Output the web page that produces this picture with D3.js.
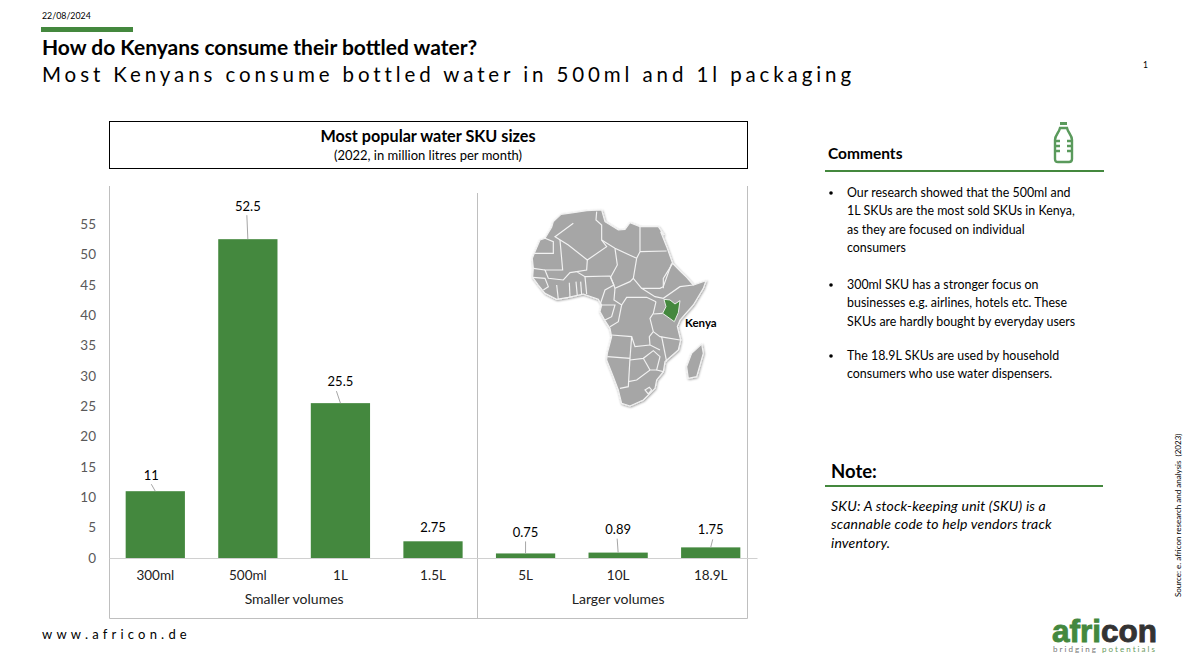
<!DOCTYPE html>
<html>
<head>
<meta charset="utf-8">
<script src="https://cdn.jsdelivr.net/npm/d3@7"></script>
<style>
  body { margin: 0; background: #fff; }
  text { font-family: Lato, "Open Sans", sans-serif; }
</style>
</head>
<body>
<div id="chart"></div>
<script>
// Chart data //
var categories = ["300ml", "500ml", "1L", "1.5L", "5L", "10L", "18.9L"];
var values = [11, 52.5, 25.5, 2.75, 0.75, 0.89, 1.75];
var valueLabels = ["11", "52.5", "25.5", "2.75", "0.75", "0.89", "1.75"];
var yTicks = [0, 5, 10, 15, 20, 25, 30, 35, 40, 45, 50, 55];
var groupNames = ["Smaller volumes", "Larger volumes"];

var comments = [
  ["Our research showed that the 500ml and", "1L SKUs are the most sold SKUs in Kenya,", "as they are focused on individual", "consumers"],
  ["300ml SKU has a stronger focus on", "businesses e.g. airlines, hotels etc. These", "SKUs are hardly bought by everyday users"],
  ["The 18.9L SKUs are used by household", "consumers who use water dispensers."]
];
var noteLines = ["SKU: A stock-keeping unit (SKU) is a", "scannable code to help vendors track", "inventory."];

// where the data labels sit above their bars, and the leader lines (px, from bar top)
var labelLift = [16, 33, 22, 14, 21, 24, 18];
var leaderDx = [-4, -1, -4, 0, 0, -1, 2];
var leaderTop = [7, 24, 12, 0, 12, 14, 8];

var green = "#44883e";

var svgWidth = 1188;
var svgHeight = 669;

var svg = d3.select("#chart")
  .append("svg")
  .attr("width", svgWidth)
  .attr("height", svgHeight)
  .style("display", "block");

var defs = svg.append("defs");
var shadow = defs.append("filter").attr("id", "mapShadow")
  .attr("x", "-10%").attr("y", "-10%").attr("width", "125%").attr("height", "125%");
shadow.append("feDropShadow")
  .attr("dx", 2).attr("dy", 3).attr("stdDeviation", 2.5)
  .attr("flood-color", "#000").attr("flood-opacity", 0.4);

// Page header //
function addText(x, y, str, size, opts) {
  opts = opts || {};
  return svg.append("text")
    .attr("x", x)
    .attr("y", y)
    .attr("font-size", size)
    .attr("fill", opts.fill || "#000")
    .attr("font-weight", opts.weight || 400)
    .attr("font-style", opts.style || "normal")
    .attr("text-anchor", opts.anchor || "start")
    .attr("letter-spacing", opts.spacing || 0)
    .text(str);
}

addText(42, 19, "22/08/2024", 8.8);
svg.append("rect").attr("x", 41).attr("y", 27).attr("width", 92).attr("height", 5).attr("fill", green);
addText(42, 55, "How do Kenyans consume their bottled water?", 21, { weight: 700 });
addText(42, 82, "Most Kenyans consume bottled water in 500ml and 1l packaging", 20.5, { spacing: 3.9 });
addText(1143, 68, "1", 8.5);

// Chart title box //
svg.append("rect")
  .attr("x", 109.5).attr("y", 121.5).attr("width", 638).attr("height", 47)
  .attr("fill", "none").attr("stroke", "#000");
addText(428, 142, "Most popular water SKU sizes", 16.2, { weight: 700, anchor: "middle" });
addText(428, 160, "(2022, in million litres per month)", 13, { anchor: "middle" });

// Scales //
var x = d3.scaleBand()
  .domain(categories)
  .range([109, 757])
  .paddingInner(0.36)
  .paddingOuter(0.18);

var y = d3.scaleLinear()
  .domain([0, 55])
  .range([558, 224]);

// Frame around the plot //
var frame = svg.append("g").attr("stroke", "#bfbfbf").attr("fill", "none");
frame.append("path").attr("d", "M109.5,186V618.5H747.5V186");
frame.append("line").attr("x1", 477.5).attr("x2", 477.5).attr("y1", 193).attr("y2", 618);

// Bars //
svg.selectAll(".bar")
  .data(categories)
  .enter()
  .append("rect")
  .attr("class", "bar")
  .attr("x", d => x(d))
  .attr("y", (d, i) => y(values[i]))
  .attr("width", x.bandwidth())
  .attr("height", (d, i) => y(0) - y(values[i]))
  .attr("fill", green);

// Axes //
var leftAxis = d3.axisLeft(y).tickValues(yTicks).tickSize(0).tickPadding(0);
var gLeft = svg.append("g")
  .attr("transform", "translate(96, 0)")
  .call(leftAxis);
gLeft.select(".domain").remove();
gLeft.selectAll("text")
  .attr("font-size", 13.5)
  .attr("font-family", "Lato")
  .attr("fill", "#595959");

var bottomAxis = d3.axisBottom(x).tickSize(0).tickPadding(12);
var gBottom = svg.append("g")
  .attr("transform", `translate(0, ${y(0)})`)
  .call(bottomAxis);
gBottom.select(".domain").attr("stroke", "#d0d0d0");
gBottom.selectAll("text")
  .attr("font-size", 13.5)
  .attr("font-family", "Lato")
  .attr("fill", "#222");

// Group labels //
var groupCentres = [
  (x(categories[0]) + x(categories[3]) + x.bandwidth()) / 2,
  (x(categories[4]) + x(categories[6]) + x.bandwidth()) / 2
];
groupNames.forEach(function(name, i) {
  addText(groupCentres[i], 604, name, 14, { anchor: "middle", fill: "#222" });
});

// Data labels and leader lines //
svg.selectAll(".leader")
  .data(categories)
  .enter()
  .filter((d, i) => leaderTop[i] > 0)
  .append("line")
  .attr("class", "leader")
  .attr("x1", d => x(d) + x.bandwidth() / 2 + leaderDx[categories.indexOf(d)])
  .attr("y1", d => y(values[categories.indexOf(d)]) - leaderTop[categories.indexOf(d)])
  .attr("x2", d => x(d) + x.bandwidth() / 2)
  .attr("y2", d => y(values[categories.indexOf(d)]))
  .attr("stroke", "#a6a6a6");

svg.selectAll(".valueLabel")
  .data(categories)
  .enter()
  .append("text")
  .attr("class", "valueLabel")
  .attr("x", d => x(d) + x.bandwidth() / 2 + (d == "300ml" ? -4 : 0))
  .attr("y", (d, i) => y(values[i]) - labelLift[i] + 5)
  .attr("text-anchor", "middle")
  .attr("font-size", 13)
  .attr("fill", "#000")
  .text((d, i) => valueLabels[i]);

// Africa map, traced by hand (decoration, not data) //
var africa = [[213,73],[190,95],[185,112],[165,145],[150,150],[133,190],[127,205],[130,235],[128,262],[145,285],[165,310],[200,328],[235,322],[280,312],[325,328],[335,345],[330,365],[345,392],[360,415],[365,440],[352,490],[350,510],[370,560],[385,600],[395,640],[420,648],[460,630],[495,595],[500,570],[520,545],[525,515],[565,480],[572,450],[562,410],[570,390],[610,345],[640,295],[648,272],[610,285],[590,262],[572,245],[548,220],[530,170],[512,125],[522,135],[505,110],[450,110],[420,98],[405,118],[385,120],[345,95],[335,60],[290,62],[250,68]];
var madagascar = [[635,462],[640,490],[620,560],[595,565],[590,530],[605,490]];
var kenya = [[522,328],[540,330],[555,342],[570,332],[565,368],[553,395],[518,370],[528,350]];
var borders = [
  [[250,100],[195,140],[235,165],[292,210],[350,170],[335,150],[335,105],[318,90],[320,65]],
  [[335,150],[375,175],[440,205],[450,185],[450,110]],
  [[450,185],[530,183]],
  [[440,205],[430,265],[455,295],[510,295],[520,290],[545,220]],
  [[375,175],[382,225],[362,262],[375,295],[420,275],[430,265]],
  [[292,210],[290,240],[260,245],[285,260],[360,258],[372,285],[345,300],[330,345]],
  [[210,150],[218,240],[165,240],[175,265],[220,270],[240,248],[260,245]],
  [[133,190],[190,190],[190,155],[165,145]],
  [[130,235],[165,240]],[[128,262],[165,265],[175,290],[160,300]],
  [[200,285],[205,328]],[[238,278],[240,322]],[[258,275],[262,318]],[[272,275],[275,315]],
  [[285,260],[290,312]],
  [[375,295],[372,330],[395,345],[410,322],[470,322],[498,335]],
  [[330,345],[375,345],[365,380],[345,390]],
  [[395,345],[385,395],[360,410]],
  [[365,435],[425,440],[435,470],[480,465]],
  [[455,295],[495,320],[520,325],[570,290],[610,285]],
  [[548,220],[520,265],[520,295]],
  [[498,335],[490,370],[480,385],[490,425],[478,440],[480,465],[510,480]],
  [[518,370],[490,372]],[[490,425],[510,440],[570,450]],
  [[515,440],[525,490],[530,515]],
  [[352,500],[420,505],[415,590],[390,595]],
  [[420,505],[425,440]],
  [[420,510],[460,505],[490,482],[510,500],[500,540],[480,540],[440,570],[415,575]],
  [[460,505],[480,540]],
  [[500,540],[520,545]]
];
var lesotho = [[465,600],[478,592],[485,600],[475,612]];

var mapLine = d3.line();
var map = svg.append("g").attr("transform", "translate(490, 190) scale(0.3333)");
var land = map.append("g").attr("filter", "url(#mapShadow)");
[africa, madagascar].forEach(function(shape) {
  land.append("path")
    .attr("d", mapLine.curve(d3.curveLinearClosed)(shape))
    .attr("fill", "#a6a6a6")
    .attr("stroke", "#f2f2f2")
    .attr("stroke-width", 3.5);
});
mapLine.curve(d3.curveLinear);
borders.forEach(function(b) {
  map.append("path")
    .attr("d", mapLine(b))
    .attr("fill", "none")
    .attr("stroke", "#f2f2f2")
    .attr("stroke-width", 3.5);
});
map.append("path")
  .attr("d", d3.line().curve(d3.curveLinearClosed)(lesotho))
  .attr("fill", "none").attr("stroke", "#f2f2f2").attr("stroke-width", 3.5);
map.append("path")
  .attr("d", d3.line().curve(d3.curveLinearClosed)(kenya))
  .attr("fill", green).attr("stroke", "#fff").attr("stroke-width", 2.5);
addText(685, 327, "Kenya", 11.5, { weight: 700 });

// Comments panel //
addText(828, 159, "Comments", 15.5, { weight: 700 });
svg.append("rect").attr("x", 825).attr("y", 170).attr("width", 279).attr("height", 2).attr("fill", green);

var bottle = svg.append("g")
  .attr("transform", "translate(1054, 121)")
  .attr("fill", "none").attr("stroke", "#5a9a5c").attr("stroke-width", 2.4);
bottle.append("rect").attr("x", 6).attr("y", 1).attr("width", 7).attr("height", 3).attr("fill", "#5a9a5c").attr("stroke", "none");
bottle.append("path").attr("d", "M6,7H13C14,12 18,14 18,19V38Q18,41 15,41H4Q1,41 1,38V19C1,14 5,12 6,7Z");
bottle.append("path").attr("d", "M1,20H6M1,25H6M1,30H6M13,20H18M13,25H18M13,30H18");

var lineY = [197, 289, 360];
comments.forEach(function(lines, i) {
  svg.append("circle").attr("cx", 831).attr("cy", lineY[i] - 4).attr("r", 1.8).attr("fill", "#000");
  lines.forEach(function(str, j) {
    addText(847, lineY[i] + j * 18.3, str, 12.4, { spacing: 0.02 });
  });
});

// Note panel //
addText(831, 478, "Note:", 18.5, { weight: 700 });
svg.append("rect").attr("x", 825).attr("y", 485).attr("width", 278).attr("height", 2).attr("fill", green);
noteLines.forEach(function(str, j) {
  addText(831, 511 + j * 18.3, str, 14, { style: "italic", spacing: 0.2 });
});

// Footer //
addText(42, 639, "www.africon.de", 13, { spacing: 4.2 });
svg.append("text")
  .attr("transform", "translate(1181, 597) rotate(-90)")
  .attr("font-size", 8)
  .attr("xml:space", "preserve")
  .style("white-space", "pre")
  .text("Source: e. africon research and analysis  (2023)");

var logo = addText(1052, 642, "", 31.5, { weight: 700 })
  .style("font-family", "'Liberation Sans'");
logo.append("tspan").attr("fill", green).attr("stroke", green).attr("stroke-width", 0.9).text("afri");
logo.append("tspan").attr("fill", "#333").attr("stroke", "#333").attr("stroke-width", 0.9).text("con");

var tagline = addText(1053, 652, "", 8, { spacing: 2.05 });
tagline.append("tspan").attr("fill", "#777").text("bridging ");
tagline.append("tspan").attr("fill", "#6a9a5c").text("potentials");
</script>
</body>
</html>
